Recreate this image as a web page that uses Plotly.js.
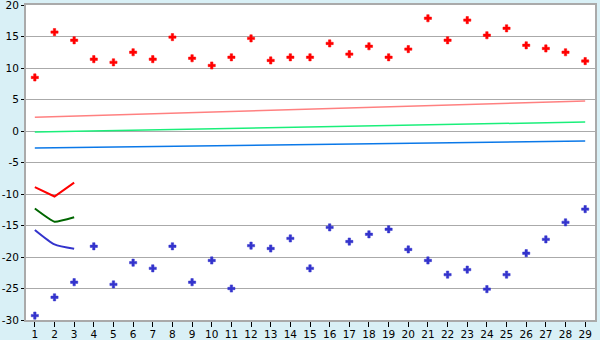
<!DOCTYPE html>
<html><head><meta charset="utf-8">
<script src="https://cdn.plot.ly/plotly-3.0.1.min.js"></script>
<style>html,body{margin:0;padding:0;background:#d9f0f6;}</style>
</head><body><div id="chart" style="width:600px;height:340px;"></div>
<script>
const days = [1,2,3,4,5,6,7,8,9,10,11,12,13,14,15,16,17,18,19,20,21,22,23,24,25,26,27,28,29];
const highVals = [8.5,15.7,14.4,11.4,10.9,12.5,11.4,14.9,11.55,10.4,11.7,14.7,11.2,11.7,11.7,13.9,12.2,13.45,11.7,13.0,17.9,14.4,17.6,15.2,16.3,13.6,13.1,12.5,11.1];
const lowVals = [-29.3,-26.4,-24.0,-18.3,-24.35,-20.9,-21.8,-18.3,-24.0,-20.55,-25.0,-18.2,-18.65,-17.05,-21.8,-15.3,-17.55,-16.4,-15.6,-18.8,-20.55,-22.8,-22.0,-25.1,-22.8,-19.4,-17.2,-14.5,-12.4];
const trendX = [1,29];
const trendHigh = [2.2,4.75];
const trendMid = [-0.16,1.43];
const trendLow = [-2.7,-1.59];
const shortX = [1,2,3];
const shortRed = [-8.9,-10.4,-8.2];
const shortGreen = [-12.3,-14.4,-13.7];
const shortBlue = [-15.7,-18.0,-18.7];
const yTicks = [-30,-25,-20,-15,-10,-5,0,5,10,15,20];
const yTickLabels = ['-30','-25','-20','-15','-10','-5','0','5','10','15','20'];

const traces = [
  {x:trendX,y:trendHigh,mode:'lines',line:{color:'#ff8080',width:1.5}},
  {x:trendX,y:trendMid,mode:'lines',line:{color:'#1aef7a',width:1.5}},
  {x:trendX,y:trendLow,mode:'lines',line:{color:'#0a78e8',width:1.5}},
  {x:shortX,y:shortRed,mode:'lines',line:{color:'#ff0000',width:2}},
  {x:shortX,y:shortGreen,mode:'lines',line:{color:'#006600',width:2,shape:'spline',smoothing:0.4}},
  {x:shortX,y:shortBlue,mode:'lines',line:{color:'#3333cc',width:2,shape:'spline',smoothing:0.6}},
  {x:days,y:highVals,mode:'markers',marker:{symbol:'cross',size:6,color:'#ff0000',line:{width:0.5,color:'#ff0000'}}},
  {x:days,y:lowVals,mode:'markers',marker:{symbol:'cross',size:6,color:'#3333cc',line:{width:0.5,color:'#3333cc'}}}
];
const layout = {
  width:600,height:340,
  margin:{l:26,r:5,t:5,b:20},
  paper_bgcolor:'#d9f0f6',plot_bgcolor:'#ffffff',
  showlegend:false,
  font:{family:'DejaVu Sans',size:10.5,color:'#000'},
  xaxis:{range:[0.55,29.5],tickvals:days,ticktext:days.map(String),ticks:'outside',ticklen:5,tickcolor:'#000',tickwidth:1,
    ticklabelstandoff:-2,ticklabeloverflow:'allow',
    showgrid:false,zeroline:false,showline:true,linecolor:'#aaaaaa',linewidth:2,mirror:true,fixedrange:true},
  yaxis:{range:[-30,20],tickvals:yTicks,ticktext:yTickLabels,ticks:'outside',ticklen:3,tickcolor:'#000',tickwidth:1,
    showgrid:true,gridcolor:'#aaaaaa',gridwidth:1,ticklabeloverflow:'allow',ticklabelstandoff:0,
    zeroline:false,showline:true,linecolor:'#aaaaaa',linewidth:2,mirror:true,fixedrange:true}
};
Plotly.newPlot('chart',traces,layout,{staticPlot:true,displayModeBar:false});
</script></body></html>
